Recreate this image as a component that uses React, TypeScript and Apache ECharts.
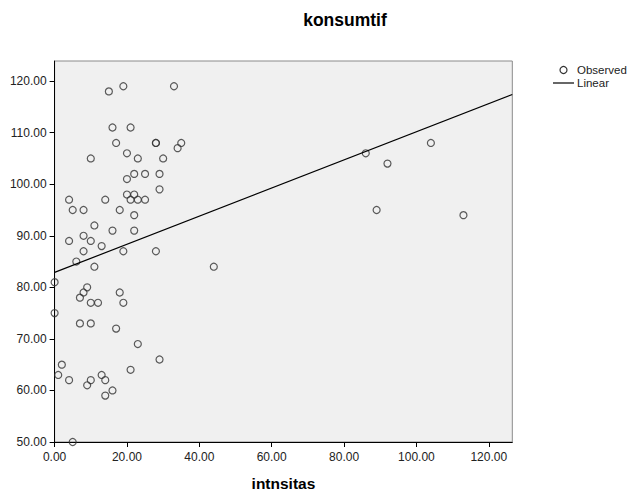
import React, { useEffect, useRef } from "react";
import * as echarts from "echarts";

const intensitas = [15, 19, 33, 16, 21, 17, 28, 28, 35, 34, 10, 20, 23, 30, 22, 25, 29, 20, 29, 20, 22, 21, 23, 25, 14, 4, 5, 8, 18, 22, 11, 16, 22, 8, 4, 10, 13, 8, 19, 28, 6, 11, 0, 9, 8, 18, 7, 10, 12, 19, 0, 7, 10, 17, 23, 29, 2, 21, 1, 13, 4, 10, 14, 9, 16, 14, 5, 44, 86, 92, 104, 89, 113];
const konsumtif = [118, 119, 119, 111, 111, 108, 108, 108, 108, 107, 105, 106, 105, 105, 102, 102, 102, 101, 99, 98, 98, 97, 97, 97, 97, 97, 95, 95, 95, 94, 92, 91, 91, 90, 89, 89, 88, 87, 87, 87, 85, 84, 81, 80, 79, 79, 78, 77, 77, 77, 75, 73, 73, 72, 69, 66, 65, 64, 63, 63, 62, 62, 62, 61, 60, 59, 50, 84, 106, 104, 108, 95, 94];
const fitX = [0, 126.5];
const fitY = [82.9, 117.4];
const xTicks = [0, 20, 40, 60, 80, 100, 120];
const yTicks = [50, 60, 70, 80, 90, 100, 110, 120];

const FONT = "'Liberation Sans', Arial, sans-serif";

export default function App() {
  const ref = useRef<HTMLDivElement>(null);
  useEffect(() => {
    const chart = echarts.init(ref.current!, null, { renderer: "svg" });
    const points = intensitas.map((x, i) => [x, konsumtif[i]]);
    const fit = fitX.map((x, i) => [x, fitY[i]]);
    chart.setOption({
      animation: false,
      backgroundColor: "#ffffff",
      title: {
        text: "konsumtif",
        left: 340,
        top: 6,
        textAlign: "center",
        textStyle: { fontFamily: FONT, fontSize: 17.5, fontWeight: "bold", color: "#000" },
      },
      grid: {
        left: 54.6,
        right: 118.7,
        top: 61,
        bottom: 49,
        containLabel: false,
        outerBoundsMode: "none",
        show: true,
        backgroundColor: "#f0f0f0",
        borderColor: "#8a8a8a",
        borderWidth: 1,
      },
      xAxis: {
        type: "value",
        min: 0,
        max: 126.5,
        name: "intnsitas",
        nameLocation: "middle",
        nameGap: 33,
        nameTextStyle: { fontFamily: FONT, fontSize: 15.5, fontWeight: "bold", color: "#000" },
        axisLine: { show: true, onZero: false, lineStyle: { color: "#000", width: 1 } },
        axisTick: { show: true, length: 5, customValues: xTicks, lineStyle: { color: "#000" } },
        axisLabel: {
          customValues: xTicks,
          formatter: (v: number) => v.toFixed(2),
          fontFamily: FONT,
          fontSize: 12,
          color: "#222",
          margin: 9,
        },
        splitLine: { show: false },
      },
      yAxis: {
        type: "value",
        min: 50,
        max: 123.9,
        axisLine: { show: true, onZero: false, lineStyle: { color: "#000", width: 1 } },
        axisTick: { show: true, length: 5, customValues: yTicks, lineStyle: { color: "#000" } },
        axisLabel: {
          customValues: yTicks,
          formatter: (v: number) => v.toFixed(2),
          fontFamily: FONT,
          fontSize: 12,
          color: "#222",
          margin: 8,
        },
        splitLine: { show: false },
      },
      series: [
        {
          name: "Observed",
          type: "scatter",
          data: points,
          symbol: "circle",
          symbolSize: 7,
          clip: true,
          itemStyle: { color: "rgba(0,0,0,0)", borderColor: "#333", borderWidth: 1.2 },
        },
        {
          name: "Linear",
          type: "line",
          data: fit,
          symbol: "none",
          lineStyle: { color: "#000", width: 1.2 },
        },
      ],
      graphic: [
        {
          type: "circle",
          shape: { cx: 563.5, cy: 70, r: 3.5 },
          style: { fill: "none", stroke: "#333", lineWidth: 1.2 },
        },
        {
          type: "text",
          x: 577,
          y: 70,
          style: { text: "Observed", fontFamily: FONT, fontSize: 11.5, fill: "#222", verticalAlign: "middle" },
        },
        {
          type: "line",
          shape: { x1: 553, y1: 83, x2: 574, y2: 83 },
          style: { stroke: "#000", lineWidth: 1.2 },
        },
        {
          type: "text",
          x: 577,
          y: 83,
          style: { text: "Linear", fontFamily: FONT, fontSize: 11.5, fill: "#222", verticalAlign: "middle" },
        },
      ],
    });
    return () => chart.dispose();
  }, []);
  return (
    <div
      ref={ref}
      style={{ position: "fixed", left: 0, top: 0, width: 631, height: 491 }}
    />
  );
}
